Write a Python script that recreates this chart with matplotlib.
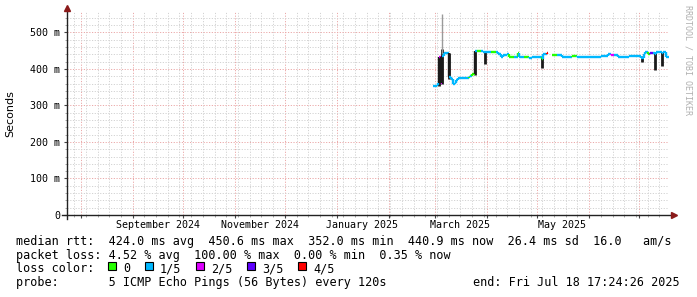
import matplotlib
matplotlib.use('Agg')
import matplotlib.pyplot as plt
import matplotlib.dates as mdates
from matplotlib.patches import Rectangle
import pandas as pd

# ---- data ----
end_time = pd.Timestamp('2025-07-18 17:24:26')
start_time = end_time - pd.Timedelta(days=360)

# median rtt breakpoints (ms), loss index per segment (0..4), None = no data
med_time = ['2025-02-27 18:00', '2025-03-01 18:00', '2025-03-02 12:00', '2025-03-03 06:00',
            '2025-03-04 06:00', '2025-03-05 00:00', '2025-03-06 06:00', '2025-03-09 06:00',
            '2025-03-10 12:00', '2025-03-11 12:00', '2025-03-12 12:00', '2025-03-13 12:00',
            '2025-03-14 12:00', '2025-03-21 00:00', '2025-03-22 00:00', '2025-03-23 00:00',
            '2025-03-24 12:00', '2025-03-26 00:00', '2025-03-28 12:00', '2025-03-29 12:00',
            '2025-04-01 00:00', '2025-04-03 00:00', '2025-04-06 00:00', '2025-04-07 12:00',
            '2025-04-09 00:00', '2025-04-10 12:00', '2025-04-13 00:00', '2025-04-14 06:00',
            '2025-04-17 00:00', '2025-04-19 12:00', '2025-04-20 06:00', '2025-04-23 00:00',
            '2025-04-26 00:00', '2025-04-28 00:00', '2025-05-02 00:00', '2025-05-03 12:00',
            '2025-05-04 12:00', '2025-05-06 12:00', '2025-05-07 12:00', '2025-05-10 00:00',
            '2025-05-13 00:00', '2025-05-15 12:00', '2025-05-22 00:00', '2025-05-25 00:00',
            '2025-06-02 00:00', '2025-06-08 00:00', '2025-06-12 12:00', '2025-06-14 00:00',
            '2025-06-16 00:00', '2025-06-18 00:00', '2025-06-25 00:00', '2025-07-02 00:00',
            '2025-07-03 12:00', '2025-07-04 12:00', '2025-07-06 00:00', '2025-07-07 12:00',
            '2025-07-09 00:00', '2025-07-10 06:00', '2025-07-11 00:00', '2025-07-14 06:00',
            '2025-07-15 00:00', '2025-07-17 00:00']
med_ms = [353, 356, 362, 432, 362, 436, 444, 378, 372, 358, 362, 370, 375, 378, 382, 386,
          450, 450, 449, 446, 447, 447, 446, 441, 432, 438, 442, 433, 433, 445, 434, 434,
          431, 433, 432, 428, 442, 444, None, 439, 438, 434, 436, 434, 433, 436, 442, 437,
          437, 434, 435, 430, 440, 447, 441, 443, 444, 440, 446, 444, 446, 434]
med_loss = [1, 1, 1, 2, 2, 1, 1, 1, 1, 1, 1, 1, 1, 0, 1, 0,
            1, 0, 1, 1, 1, 0, 1, 1, 1, 1, 1, 0, 1, 0, 1, 0,
            1, 1, 1, 0, 1, 4, 1, 0, 1, 1, 0, 1, 1, 1, 1, 2,
            1, 1, 1, 1, 1, 1, 0, 3, 1, 1, 1, 1, 1, 1]

# smoke bars: time, low, high (ms)
smoke_time = ['2025-03-03 06:00', '2025-03-04 18:00', '2025-03-09 06:00', '2025-03-24 18:00',
              '2025-03-30 18:00', '2025-05-03 12:00', '2025-07-02 12:00', '2025-07-10 06:00',
              '2025-07-14 12:00']
smoke_lo = [353, 360, 372, 384, 413, 402, 420, 398, 409]
smoke_hi = [432, 455, 443, 450, 447, 432, 436, 445, 446]
spike_time = '2025-03-05 06:00'
spike_lo, spike_hi = 440, 551

loss_colors = ['#26ff00', '#00b8ff', '#dd00ff', '#5e00ff', '#ff0000']
loss_labels = ['0', '1/5', '2/5', '3/5', '4/5']

month_labels = ['September 2024', 'November 2024', 'January 2025', 'March 2025', 'May 2025']
month_label_time = ['2024-09-16', '2024-11-16', '2025-01-16', '2025-03-16', '2025-05-16']

W, H = 697, 297
mono = 'DejaVu Sans Mono'

fig = plt.figure(figsize=(W / 100, H / 100), dpi=100)
ax = fig.add_axes([67 / W, (H - 215) / H, (669 - 67) / W, (215 - 12) / H])

ax.set_xlim(start_time, end_time)
ax.set_ylim(0, 556)
for s in ax.spines.values():
    s.set_visible(False)

ax.xaxis.set_major_locator(mdates.MonthLocator())
ax.xaxis.set_minor_locator(mdates.WeekdayLocator(byweekday=mdates.SU))
ax.xaxis.set_major_formatter(plt.NullFormatter())
ax.yaxis.set_major_locator(plt.MultipleLocator(100))
ax.yaxis.set_minor_locator(plt.MultipleLocator(20))
ax.set_yticks([0, 100, 200, 300, 400, 500])
ax.set_yticklabels(['0', '100 m', '200 m', '300 m', '400 m', '500 m'],
                   family=mono, fontsize=7.2)
ax.tick_params(which='major', length=2.5, width=0.8, pad=2.5, color='#444444')
ax.tick_params(which='minor', length=1.5, width=0.6, color='#999999')
ax.grid(which='minor', color='#d2d2d2', linewidth=0.7, linestyle=(0, (1.2, 1.6)))
ax.grid(which='major', color='#eba8a8', linewidth=0.7, linestyle=(0, (1.2, 1.6)))
ax.set_axisbelow(True)

for lab, t in zip(month_labels, month_label_time):
    ax.annotate(lab, xy=(pd.Timestamp(t), 0), xycoords=('data', 'axes fraction'),
                xytext=(0, -7.4), textcoords='offset points', ha='center', va='center',
                family=mono, fontsize=7.2)

# smoke
for t, lo, hi in zip(smoke_time, smoke_lo, smoke_hi):
    ax.vlines(pd.Timestamp(t), lo, hi, color='#1a1a1a', linewidth=2.0, zorder=3)
ax.vlines(pd.Timestamp(spike_time), spike_lo, spike_hi, color='#9a9a9a', linewidth=1.0, zorder=3)

# median line, coloured by loss; big jumps drawn dark
times = [pd.Timestamp(t) for t in med_time] + [end_time]
lw = 1.7
for i in range(len(med_ms)):
    v = med_ms[i]
    if v is None:
        continue
    c = loss_colors[med_loss[i]]
    ax.plot([times[i], times[i + 1]], [v, v], color=c, linewidth=lw,
            solid_capstyle='butt', zorder=4)
    if i + 1 < len(med_ms) and med_ms[i + 1] is not None:
        nv = med_ms[i + 1]
        vc = '#1a1a1a' if abs(nv - v) > 20 else loss_colors[med_loss[i + 1]]
        ax.plot([times[i + 1], times[i + 1]], [v, nv], color=vc, linewidth=lw,
                solid_capstyle='butt', zorder=4)

# axis lines with arrows
axc = ax.transAxes
ax.plot([-5 / 602, 1 + 3 / 602], [0, 0], color='#222222', lw=1, transform=axc, clip_on=False, zorder=5)
ax.plot([0, 0], [-4 / 203, 1 + 2 / 203], color='#222222', lw=1, transform=axc, clip_on=False, zorder=5)
ax.plot([1 + 5 / 602], [0], marker='>', color='#8b1a1a', markersize=4, transform=axc, clip_on=False, zorder=5)
ax.plot([0], [1 + 4 / 203], marker='^', color='#8b1a1a', markersize=4, transform=axc, clip_on=False, zorder=5)

fig.text(10 / W, 1 - 114 / H, 'Seconds', rotation=90, ha='center', va='center',
         family='DejaVu Sans', fontsize=8)
fig.text(688 / W, 1 - 5 / H, 'RRDTOOL / TOBI OETIKER', rotation=270, ha='center', va='top',
         family=mono, fontsize=6, color='#b0b0b0')

# legend
lines = ['median rtt:  424.0 ms avg  450.6 ms max  352.0 ms min  440.9 ms now  26.4 ms sd  16.0   am/s',
         'packet loss: 4.52 % avg  100.00 % max  0.00 % min  0.35 % now',
         'loss color:',
         'probe:       5 ICMP Echo Pings (56 Bytes) every 120s']
baselines = [245, 258.7, 272.3, 286]
fs = 8.45
for txt, b in zip(lines, baselines):
    fig.text(16 / W, 1 - b / H, txt, family=mono, fontsize=fs, va='baseline')
fig.text(680 / W, 1 - 286 / H, 'end: Fri Jul 18 17:24:26 2025', family=mono, fontsize=fs,
         va='baseline', ha='right')

box_x = [108, 145, 196, 247, 298]
lab_x = [123, 160, 211, 262, 313]
for bx, lx, c, lab in zip(box_x, lab_x, loss_colors, loss_labels):
    fig.patches.append(Rectangle((bx / W, 1 - 270 / H), 8 / W, 8 / H, transform=fig.transFigure,
                                 facecolor=c, edgecolor='black', linewidth=0.8))
    fig.text(lx / W, 1 - 272.3 / H, lab, family=mono, fontsize=fs, va='baseline')

fig.savefig('out.png', dpi=100)
